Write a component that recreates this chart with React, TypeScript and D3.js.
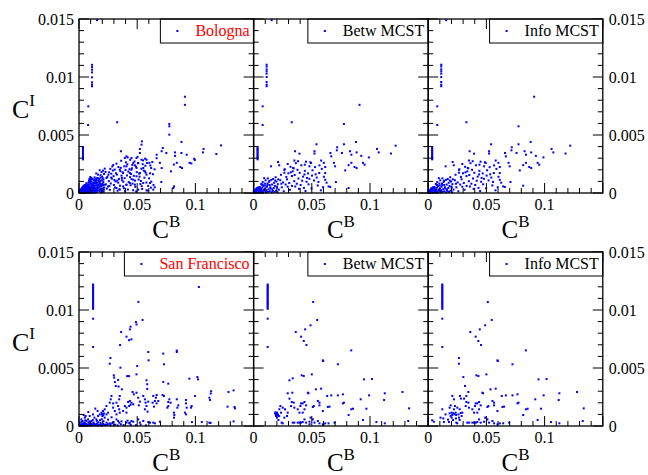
import React from 'react';
import * as d3 from 'd3';

type P = [number, number];
// Each point: [C^B in units of 1e-3, C^I in units of 1e-4]

const bolognaPts: P[] = [
  [15.5,149],[11.2,110.5],[11.2,108.5],[11.2,106.3],[11.2,104],[11.2,99.7],[11.2,95.4],[11.2,93.4],[11.2,92],
  [8,74.7],[7.8,58.6],[32.8,61],[91,83],[91,76],[77.6,59.5],[77.6,57.5],[77.6,50.3],[88,44],[122,41],[118,33.6],[107,38],[106.5,35],[99,29.5],[99.5,28.5],[95,26],[96.5,25.5],
  [3.4,39],[3.4,38],[3.4,37],[3.4,36],[3.4,35],[3.4,34],[3.4,33],[3.4,32],[3.4,31],[3.4,30],[3.4,29],
  [54,44.5],[53.7,41.7],[52.3,38],[52.3,34.5],[36,36],[72,38.8],[71,36],[66.7,33],[66.7,30],[75,34.5],[82.5,35],[82.5,32],[88,34.5],[92.5,33],[84,26],[81.5,24.5],[87,22.4],[88.5,21.5],[79,18.7],[69.5,26],[71,21.5],[70.7,9.5],[81.6,5.7],[81,4.3],[64,7],[65,5],[61,17],[62,21.5],[60.5,26],[57,23.5],[58,28.7],
  [46.6,25.9],[48,23.9],[49.4,21.6],[45.1,20.1],[40.8,23],[43.7,17.2],[37.9,17.2],[35,20.1],[39.4,30.2],[40.8,31.6],[45.1,30.2],[49.4,30.2],[50.9,25.9],[53.7,28.7],[55.2,21.6],[56.6,18.7],[58,15.8],[52.3,17.2],[49.4,14.4],[46.6,11.5],[43.7,8.6],[40.8,7.2],[37.9,5.7],[48,7.2],[55.2,8.6],[61,8.6],[50.9,2.9],[58,2.3],[63.8,2.9],[35,2.9],[32.2,4.3],
  [3.7,4.1],[14.2,2.9],[9.8,11.3],[1.6,2.6],[18.7,6.4],[6.3,0.9],[11.9,4.4],[20.4,12.7],[4.8,2.2],[16.1,9.0],[8.5,6.8],[13.4,13.5],[2.2,0.6],[19.5,1.7],[7.1,3.9],[15.8,5.5],[10.6,9.7],[5.9,5.3],[21.6,4.8],[12.8,0.4],[3.1,3.6],[17.4,11.9],[9.2,1.4],[14.9,7.9],[0.8,1.8],[20.9,9.5],[6.7,5.6],[11.3,12.4],[18.1,3.2],[4.3,5.1],[15.3,0.8],[8.0,8.9],[13.0,6.1],[2.7,2.4],[19.9,14.1],[10.1,2.6],[16.7,7.0],[5.4,1.1],[12.2,9.1],[21.2,0.9],[9.6,10.0],[14.6,4.1],[1.3,2.9],[17.9,8.5],[9.5,5.0],[3.9,3.3],[20.1,2.4],[11.6,7.6],[6.0,6.5],[15.0,11.1],[8.8,0.3],[13.7,3.4],[2.4,3.9],[18.4,10.4],[10.9,1.0],[4.6,4.2],[16.4,2.1],[7.3,7.2],[12.5,5.3],[0.5,1.2],[19.2,5.9],[5.1,4.6],[14.0,9.8],[9.0,3.1],[21.9,7.1],[3.4,1.2],[17.0,4.6],[11.0,11.7],[6.5,2.7],[15.6,13.0],[1.9,2.1],[13.2,1.8],[8.2,5.9],[18.9,0.5],[10.4,8.0],[4.1,0.4],[16.9,12.6],[7.9,1.9],[12.0,2.3],[20.6,6.7],[2.9,4.5],[14.4,6.6],[9.7,13.8],[5.7,4.9],[17.7,1.3],[11.4,3.7],[0.3,0.8],[19.6,11.0],[8.9,9.0],[13.9,8.6],[3.0,2.0],[15.9,3.6],[8.6,10.6],[21.4,2.8],[10.7,5.8],[4.9,6.9],[18.3,7.7],[12.7,10.9],[1.1,1.5],[16.2,5.0],[7.4,0.5],[14.7,12.2],[9.3,7.4],[5.3,3.0],[20.3,8.2],[2.0,1.5],[13.5,4.8],[11.7,0.7],[6.2,8.4],[17.2,9.6],[3.6,3.0],[19.0,3.9],[8.3,4.4],[15.4,8.7],[10.2,12.9],[4.4,6.2],[12.3,7.0],[0.9,2.0],[18.6,13.3],[7.0,6.2],[14.1,0.5],[21.0,11.6],[5.6,6.9],[9.9,2.0],[16.6,10.9],[2.6,3.3],[13.1,11.8],[11.1,6.4],[6.6,4.5],[19.3,7.4],[4.0,1.7],[15.1,2.6],[8.9,12.1],[17.6,5.8],[1.5,0.3],[12.9,8.3],[10.0,4.1],[20.7,4.0],[3.3,5.6],[14.5,10.3],[7.7,3.5],[18.0,2.7],[5.0,5.7],[16.0,6.8],
  [16.3,15.8],[19.4,17.9],[21.5,16.4],[17.8,19.6],[22.1,21.0],[14.8,16.9],[20.6,19.2],[18.5,15.3],
  [0.6,0.4],[2.3,1.9],[4.1,0.2],[5.8,2.8],[7.5,1.1],[9.6,3.6],[11.2,0.5],[1.4,3.1],[3.2,4.4],[6.8,4.0],[8.7,0.8],[10.5,2.2],[0.2,2.2],[2.8,0.3],[4.7,3.3],[6.1,1.6],[7.9,4.8],[9.1,2.5],[11.8,3.0],[1.9,1.0],[3.8,2.6],[5.2,0.7],[7.0,2.9],[8.2,3.3],[10.8,4.5],[0.9,0.7],[3.5,0.9],[5.5,4.6],[6.4,0.2],[9.4,1.0],[11.5,1.8],[2.5,2.8],[4.4,1.4],[8.0,2.0],[10.1,0.2],[1.2,0.1],[12.4,2.6],[13.6,0.9],[12.9,4.0],[14.3,1.9],
  [24.3,13.8],[38.6,4.1],[29.1,19.4],[51.2,11.6],[33.7,8.9],[45.8,24.2],[26.5,2.7],[57.3,17.5],[41.2,15.1],[23.1,7.5],[48.4,5.3],[35.9,21.7],[62.1,9.8],[30.4,11.2],[44.0,28.6],[27.8,16.6],[53.6,20.9],[39.5,1.6],[32.2,25.3],[59.4,6.1],[25.6,10.3],[47.1,14.8],[36.8,13.0],[55.0,28.1],[22.8,18.2],[42.7,9.4],[31.0,4.8],[50.3,31.2],[28.6,22.9],[61.3,23.7],[37.5,17.9],[46.5,2.4],[34.3,12.1],[56.2,13.2],[24.9,5.6],[43.4,20.5],[52.7,7.7],[29.7,14.5],[40.3,26.4],[63.5,16.2],[33.1,1.9],[49.6,18.0],[26.9,20.8],[58.5,25.9],[38.1,9.7],[45.1,11.9],[31.8,17.0],[54.3,3.5],[23.6,12.9],[41.8,30.7],[35.2,6.3],[60.2,12.6],[48.9,22.8],[27.3,8.2],[44.7,16.4],[36.2,27.8],[52.0,14.1],[30.0,6.9],[57.9,9.0],[39.9,19.9],[25.2,15.7],[46.0,8.1],[33.9,22.4],[55.6,19.3],[42.0,3.0],[28.2,12.4],[64.9,20.4],[37.0,11.0],[50.8,25.6],[32.6,15.9],[47.7,27.2],[23.9,3.8],[43.9,13.7],[58.9,2.1],[35.6,18.8],[53.2,10.4],[40.7,7.0],[29.4,24.1],[61.8,4.6],[45.4,21.3],[31.4,9.9],[49.1,1.3],[38.9,23.0],[26.1,6.0],[54.7,24.8],[34.7,3.2],[42.4,18.5],[56.8,29.6],[27.6,13.3],[51.7,16.7],[36.5,15.0],[63.0,26.7],[30.7,20.2],[44.3,6.7],[48.1,10.7],[39.2,12.8],[25.9,17.8],[53.9,5.9],[41.5,24.7],[32.9,10.6]
];

const bolognaMcstShared: P[] = [
  [15.5,149],[11.2,110.6],[11.2,109],[11.2,106.6],[11.2,104.9],[11.2,102.9],[11.2,100],[11.2,95.7],[11.2,93.4],[11.2,92],
  [7.8,74.7],[7.8,58.6],[32.8,61],[88,44],[122,40.8],[118,34],[106,38],[107.5,35],[99,30.7],[94,26],[95.4,24.4],[54,42],[52.3,36],[52.3,34],[35.6,36],[71.8,39.4],[71.5,36.8],[66,34.5],[66.7,31.6],[77.6,42],[75.9,34.5],[82.8,36],[84,33],[88.5,35],[92.5,32],[84,26],[81.6,24],[86.8,22.4],[88.5,21.5],[78.7,19.5],[69,26],[70,23],[70.7,9.5],[64.4,5.7],[65.8,5.2],[61.5,17.2],[61.5,22.4],[60.3,26],[56.6,23.8],[58,28],
  [3.4,39],[3.4,38],[3.4,37],[3.4,36],[3.4,35],[3.4,34],[3.4,33],[3.4,32],[3.4,31],[3.4,30],[3.4,29],
  [45,27],[44,24.4],[48,23],[49.4,25.9],[39.4,33.9],[35,28],[29.3,25],[21,26.7],[22,23.9],[15,23],[26.4,20],[32,17.8],[34,21.6],
  [2.1,2.9],[12.6,1.2],[7.8,9.4],[17.3,4.3],[4.5,0.7],[15.2,11.3],[9.3,3.0],[20.8,7.6],[1.0,2.4],[13.8,6.9],[6.2,3.7],[18.9,13.6],[10.7,0.4],[3.6,3.5],[16.4,1.8],[8.4,5.9],[21.7,2.9],[5.3,5.2],[11.9,8.2],[0.4,0.5],[14.7,3.8],[7.0,1.5],[19.6,9.9],[2.9,3.2],[12.2,12.6],[9.9,6.5],[17.9,0.9],[4.1,4.9],[15.9,7.3],[6.6,7.8],[20.2,4.7],[1.7,1.2],[11.1,2.4],[13.3,9.6],[8.1,0.3],[18.3,6.1],[3.2,4.2],[10.3,10.9],[16.8,12.1],[5.7,2.1],[14.3,5.0],[0.8,1.0],[21.2,11.8],[7.4,4.6],[12.9,3.3],[2.5,1.8],[19.1,2.0],[9.6,8.1],[4.9,3.6],[15.6,0.5],[11.5,5.4],[6.9,7.4],[17.6,8.8],[3.9,0.3],[13.6,10.5],[8.8,2.7],[20.6,0.6],[1.3,1.9],[10.0,4.1],[16.1,3.1],[5.0,4.8],[14.0,1.4],[7.7,6.9],[18.6,10.7],[2.8,4.1],[12.0,7.0],[9.1,12.8],[6.0,0.9],[19.9,5.5],[3.4,2.7],[0.2,1.4],[1.9,0.2],[5.6,4.0],[8.6,1.9],[11.7,0.8],[4.3,2.0],[6.8,2.8],[10.5,1.6],[2.3,3.5],[7.2,0.6],
  [25.3,9.1],[39.6,17.4],[31.2,2.8],[47.9,12.2],[23.5,15.7],[55.1,6.5],[34.4,21.3],[43.2,4.4],[28.7,11.8],[60.4,14.0],[37.1,8.0],[50.6,19.6],[26.8,20.4],[45.5,9.7],[32.9,14.6],[57.8,2.3],[41.0,23.9],[24.2,4.9],[53.3,16.1],[35.8,5.6],[48.7,26.5],[29.9,17.0],[62.7,8.9],[38.5,12.5],[44.6,1.7],[27.5,7.3],[51.9,10.8],[33.6,18.7],[58.6,20.8],[40.4,6.9],[22.9,11.0],[46.8,16.9],[36.3,25.7],[54.2,13.3],[30.6,8.6],[42.5,14.1],[25.9,1.5],[49.8,4.0],[37.7,20.0],[61.5,11.4],[28.1,13.9],[44.0,19.1],[34.9,10.2],[56.4,17.2],[31.7,22.6],[47.2,7.5],[23.8,8.0],[52.8,22.3],[39.0,3.6],[29.3,5.4],[45.9,13.0],[35.3,15.5],[59.7,5.0],[41.7,10.6],[26.4,17.5],[50.2,15.0],[33.0,6.1],[55.7,9.6],[38.2,27.4],[43.7,16.0]
];
const bolognaBetwOnly: P[] = [[91,76],[77.6,59.5],[81.6,4.3]];
const bolognaInfoOnly: P[] = [[91,83],[77.6,57.5],[81.6,6.3]];

const sfColumn: P[] = [
  [12.1,122],[12.1,121],[12.1,120],[12.1,119],[12.1,118],[12.1,117],[12.1,116],[12.1,115],[12.1,114],[12.1,113],[12.1,112],[12.1,111],[12.1,110],[12.1,109],[12.1,108],[12.1,107],[12.1,106],[12.1,105],[12.1,104],[12.1,103],[12.1,102],[12.1,101],[12.1,92.5],[12.1,68.1]
];

const sfPts: P[] = [
  ...sfColumn,
  [103,119.8],[51,107],[54.6,91.4],[48.9,89.7],[49.4,87.6],[44.3,85.6],[43.7,83.3],[36.2,81],[40.8,77],[43,74],[45,74.7],[35.3,69.8],[59.5,63.8],[59.8,56.6],[72.4,62.4],[73,53.2],[84,65],[84,63.8],[27,58.6],[26.4,53.7],[35.6,50.3],[50,51.7],[29.9,43.7],[30.2,41.7],[41.4,43],[43,43],[49.4,44.5],[30.8,37.9],[31.6,34.5],[33.6,39.7],[34,34],[36.8,31.6],[58,39.4],[58.6,36],[58.6,32],[72.4,38],[76.7,36.5],[94.8,40.8],[101.7,42.2],[102.3,40.2],[99.7,25.9],[113.5,30],[113.2,28],[112,24.4],[112.6,22.4],[128.4,29.3],[132.8,30.7],[127.6,16.7],[133.6,16.4],[134,15.2],[132.8,4],[105.5,3.4],[112,2.9],[113,2.6],[97,3.4],[96.8,17.2],[96.3,15.8],[91.9,22.4],[91.9,19.5],[92.5,15.8],[91,11.5],[92,10],[84,23],[85.3,17.8],[84.5,15.8],[81.6,11.5],[81.9,9.5],[81.6,7.2],[77.6,23],[76.7,20.7],[78.7,20],[75.9,15.8],[76.7,17.2],[71.8,26.7],[73,25.9],
  [66.7,26.7],[66.1,24.4],[63.8,25.9],[65.2,21.6],[66.7,19.5],[68.1,21.6],[63.2,20.1],[64.4,16.7],[59.5,21],[55.2,25.9],[56.6,23],[57.2,20.1],[58,17.2],[56.6,14.4],[58.9,12.4],[52.3,21],[49.4,28.7],[50.9,24.4],[51.4,17.8],[46,29.3],[47.1,27.3],[43.7,21.6],[45.1,20.1],[46.6,18.7],[43.1,17.2],[40.8,15.8],[42.2,20.7],[44.3,18.4],[39.4,17.2],[37.9,12.9],[40.8,11.5],[41.7,4.6],[43.7,2.9],[45.1,4.3],[43.1,2.3],[40.8,2.9],[46.6,3.7],[50.9,5.7],[52.3,2.9],[55.2,4.3],[59.5,3.4],[61,2.9],[63.8,2.9],[65.2,2.3],[69.5,3.7],
  [35,25.9],[34.5,23],[32.2,20.1],[33.6,17.2],[34.5,14.4],[35,11.5],[32.2,10],[30.8,12.9],[29.3,15.8],[27.9,25.9],[27.3,23],[26.4,20.1],[29.3,19.5],[23.6,17.2],[22.1,14.4],[20.7,12.9],[19.3,11.5],[23.6,10],[25,11.5],[20.1,8.6],[17.8,10],[22.1,7.2],[14.9,5.7],[16.4,8.6],[32.2,5.7],[33.6,4.3],[36.5,4],[34.5,2.9],[29.3,3.4],[26.4,2.3],[23.6,2.9],
  [0.5,0.6],[2,1.4],[3.5,0.6],[5,2.3],[6.5,1.2],[8,2.9],[9.5,0.8],[11,1.7],[12.5,3],[14,0.6],[15.5,2],[17,1],[18.5,2.6],[20,0.6],[21.5,1.2],[3,4.3],[5,7.2],[2,5.7],[6.3,4.3],[0.6,2.9],[7.8,5.7],[9.2,8.6],[10.6,4.3],[5.7,8.6],[13.2,7.2],[12,10],[4,9.5],[8,12],[16,13],[14,15],
  [1.2,0.3],[2.8,0.4],[4.2,1.6],[7.2,0.4],[8.8,1.4],[10.2,0.3],[12,0.7],[13.5,1.5],[16,0.3],[19,0.4],[24,0.8],[27,1.2],[30,0.6],[1,1.2],[4.5,3],[9.8,2.6],[18,5],[21,4.2],[25,5.5],[28,7.5],
  [1.5,0.9],[3.1,2.0],[4.6,0.4],[6.0,1.8],[7.6,0.7],[9.3,1.9],[10.7,0.6],[12.6,2.2],[14.8,1.3],[16.5,3.2],[18.2,0.8],[20.6,2.0],[22.5,0.9],[24.8,1.6],[26.9,0.5],[28.5,2.4],[31.0,1.1],[33.2,0.6],[36.0,1.5],[38.4,0.8],[44.5,1.0],[48.9,0.7],[53.0,1.2],[57.5,0.6],[2.2,3.6],[5.4,4.9],[8.9,3.8],[11.8,5.1],[15.3,4.4],[19.6,5.8],[19.8,10.2],[20.9,9.4],[21.4,10.8]
];

const sfMcstShared: P[] = [
  ...sfColumn,
  [51.2,106.9],[54.6,91.4],[48.9,86.8],[44.3,83.3],[36.2,81],[40.8,77],[43.1,73.3],[45.4,69.8],[83.9,65.2],[59.5,56.6],[59.8,56],[72.4,53.2],[50,44.5],[41.4,43.7],[43.1,43.1],[94.8,40.2],[101.7,40.5],[58,32.2],[53.5,31.6],[46.6,28.7],[47.1,28.2],[66.7,26.4],[63.2,25.9],[72.4,26.4],[76.7,27.3],[92,23],[99.2,26.4],[112.7,28.2],[112.1,22.4],[127.9,29.3],[133.6,15.2],[132.8,4.3],[105.5,3.4],[112.7,2.3],[96.9,14.9],[94,5.2],[85.4,14.9],[83.9,14.4],[81.6,9.5],[77.6,20.1],[76.7,19.5],[65.2,16.7],[63.8,16.4],[59.5,12.9],[55.2,21.6],[56.6,20.1],[56.6,17.8],[50.9,16.4],[51.7,17.2],[45.1,17.8],[43.7,20.7],[42.2,19.5],[40.8,19.5],[40.2,17.2],[37.9,14.4],[39.4,11.5],[42.2,11.5],[43.7,14.4],[43.7,5.7],[42.2,3.4],[40.8,2.9],[39.4,2.9],[37.9,2.9],[45.1,2.9],[48,3.7],[52.3,2.9],[55.2,4.3],[56.6,2.3],[59.5,1.4],[61.5,2.3],[64.4,2.3],[69.5,2.9],[35,15.8],[34.5,20.1],[32.8,20.7],[30.8,23.6],[32.2,17.2],[29.3,11.5],[28.7,8.6],[26.4,7.2],[27,14.4],[25,15.8],[23,17.2],[23.6,11.5],[22.1,14.4],[20.1,11.5],[18.4,10.9],[19.3,8.6],[20.7,9.5],[20.1,7.2],[21.3,5.2],[24.1,2.9],[25,2.3],[35,2.9],[33.6,2.9],[48.9,7.2],[50.9,5.7]
];
const sfBetwOnly: P[] = [[33.6,41.1],[30.8,39.4],[29.3,28.2],[33.3,28.7],[19.5,10],[20.5,10.5],[21,9],[19,9.8],[18.8,11.8],[22,8.5],[60,1],[48,1.5]];
const sfInfoOnly: P[] = [[26.4,58.6],[26.4,53.7],[30.2,42.2],[31.6,34.5],[34.5,29.3],[32.8,25.9],[20.7,25.9],[22.1,23],[3.4,4.9],[4.9,3.7],[10.6,7.2],[12.1,14.4],[13.5,3.4],[17.8,3.4],[14.9,10],[18.4,15.8],[19.3,17.8],[27.3,25.9],[28.1,23.6],[21.5,11],[22.5,10.2],[24,9.5],[26,10],[28,11.2],[23.8,6.5],[27,5.2],[17,5.5],[13,6.5]];

const xMajorTicks = [0, 0.05, 0.1, 0.15];
const xTickLabels = ['0', '0.05', '0.1'];
const yMajorTicks = [0, 0.005, 0.01, 0.015];
const yTickLabels = ['0', '0.005', '0.01', '0.015'];

const panels = [
  { label: 'Bologna', labelColor: '#ff0000', row: 0, col: 0, pts: bolognaPts },
  { label: 'Betw MCST', labelColor: '#000000', row: 0, col: 1, pts: [...bolognaMcstShared, ...bolognaBetwOnly] },
  { label: 'Info MCST', labelColor: '#000000', row: 0, col: 2, pts: [...bolognaMcstShared, ...bolognaInfoOnly] },
  { label: 'San Francisco', labelColor: '#ff0000', row: 1, col: 0, pts: sfPts },
  { label: 'Betw MCST', labelColor: '#000000', row: 1, col: 1, pts: [...sfMcstShared, ...sfBetwOnly] },
  { label: 'Info MCST', labelColor: '#000000', row: 1, col: 2, pts: [...sfMcstShared, ...sfInfoOnly] },
];

const FONT = "'Liberation Serif', 'Times New Roman', Tinos, 'Nimbus Roman', 'DejaVu Serif', serif";
const X0 = 79, PW = 174.6, PH = 174;
const ROW_TOP = [19, 252];
const BLUE = '#0000ff';

function textWidth(t: string, size: number) {
  const c = document.createElement('canvas').getContext('2d');
  if (!c) return t.length * size * 0.5;
  c.font = `${size}px ${FONT}`;
  return c.measureText(t).width;
}

const txt = (size: number): React.CSSProperties => ({ fontFamily: FONT, fontSize: size });

function Panel({ p }: { p: typeof panels[number] }) {
  const x0 = X0 + p.col * PW, x1 = x0 + PW;
  const y0 = ROW_TOP[p.row], y1 = y0 + PH;
  const xs = d3.scaleLinear().domain([0, 0.15]).range([x0, x1]);
  const ys = d3.scaleLinear().domain([0, 0.015]).range([y1, y0]);
  const xMinor = d3.range(0, 16).map(i => i / 100).filter(v => !xMajorTicks.some(m => Math.abs(m - v) < 1e-9));
  const yMinor = d3.range(0, 16).map(i => i / 1000).filter(v => !yMajorTicks.some(m => Math.abs(m - v) < 1e-9));
  const MAJ = 10, MIN = 5;
  const tw = textWidth(p.label, 16);
  const textRight = x1 - 4;
  const textLeft = textRight - tw;
  const boxLeft = textLeft - 35;
  const boxH = 24;
  return (
    <g>
      {p.pts.map(([cb, ci], i) => (
        <rect key={i} x={xs(cb / 1000) - 1} y={ys(ci / 10000) - 1} width={2} height={2} fill={BLUE} />
      ))}
      <g stroke="#000" strokeWidth={1}>
        {xMajorTicks.map(v => (
          <g key={'xm' + v}>
            <line x1={xs(v)} x2={xs(v)} y1={y1} y2={y1 - MAJ} />
            <line x1={xs(v)} x2={xs(v)} y1={y0} y2={y0 + MAJ} />
          </g>
        ))}
        {xMinor.map(v => (
          <g key={'xn' + v}>
            <line x1={xs(v)} x2={xs(v)} y1={y1} y2={y1 - MIN} />
            <line x1={xs(v)} x2={xs(v)} y1={y0} y2={y0 + MIN} />
          </g>
        ))}
        {yMajorTicks.map(v => (
          <g key={'ym' + v}>
            <line x1={x0} x2={x0 + MAJ} y1={ys(v)} y2={ys(v)} />
            <line x1={x1} x2={x1 - MAJ} y1={ys(v)} y2={ys(v)} />
          </g>
        ))}
        {yMinor.map(v => (
          <g key={'yn' + v}>
            <line x1={x0} x2={x0 + MIN} y1={ys(v)} y2={ys(v)} />
            <line x1={x1} x2={x1 - MIN} y1={ys(v)} y2={ys(v)} />
          </g>
        ))}
      </g>
      <rect x={boxLeft} y={y0} width={x1 - boxLeft} height={boxH} fill="#fff" stroke="#000" strokeWidth={1} />
      <rect x={textLeft - 19} y={y0 + 11} width={2} height={2} fill={BLUE} />
      <text x={textRight} y={y0 + 17} textAnchor="end" style={txt(16)} fill={p.labelColor}>{p.label}</text>
      <rect x={x0} y={y0} width={PW} height={PH} fill="none" stroke="#000" strokeWidth={1.3} />
      {xTickLabels.map((l, i) => (
        <text key={'xl' + i} x={xs(xMajorTicks[i])} y={y1 + 17} textAnchor="middle" style={txt(16)}>{l}</text>
      ))}
      {p.col === 0 && yTickLabels.map((l, i) => (
        <text key={'yl' + i} x={x0 - 5} y={ys(yMajorTicks[i]) + 5.5} textAnchor="end" style={txt(16)}>{l}</text>
      ))}
      {p.col === 2 && yTickLabels.map((l, i) => (
        <text key={'yr' + i} x={x1 + 6} y={ys(yMajorTicks[i]) + 5.5} textAnchor="start" style={txt(16)}>{l}</text>
      ))}
      <text x={xs(0.075)} y={y1 + 45} textAnchor="middle" style={txt(25)}>
        C<tspan style={{ fontSize: 17 }} dy={-11}>B</tspan>
      </text>
      {p.col === 0 && (
        <text x={12} y={y0 + 99} style={txt(26)}>
          C<tspan style={{ fontSize: 17 }} dy={-12}>I</tspan>
        </text>
      )}
    </g>
  );
}

export default function App() {
  return (
    <svg width={648} height={475} style={{ position: 'absolute', left: 0, top: 0, background: '#fff' }}>
      <rect x={0} y={0} width={648} height={475} fill="#fff" />
      {panels.map((p, i) => <Panel key={i} p={p} />)}
    </svg>
  );
}
